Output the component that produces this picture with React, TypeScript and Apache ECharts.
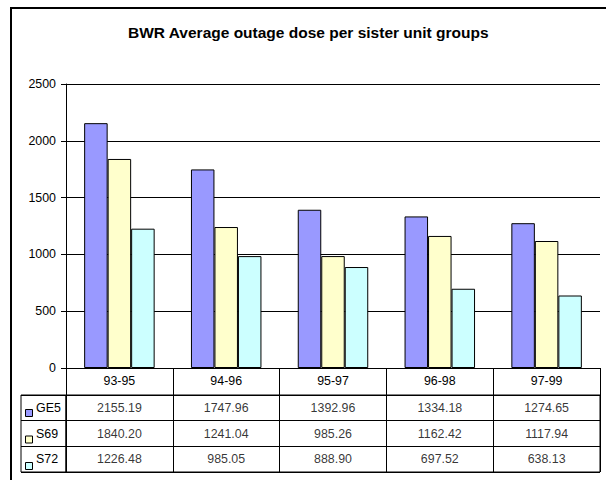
import React, { useEffect, useRef } from "react";
import * as echarts from "echarts";

const categories = ["93-95", "94-96", "95-97", "96-98", "97-99"];
const seriesNames = ["GE5", "S69", "S72"];
const ge5 = [2155.19, 1747.96, 1392.96, 1334.18, 1274.65];
const s69 = [1840.2, 1241.04, 985.26, 1162.42, 1117.94];
const s72 = [1226.48, 985.05, 888.9, 697.52, 638.13];
const colors = ["#9999FF", "#FFFFCC", "#CCFFFF"];
const yTicks = [0, 500, 1000, 1500, 2000, 2500];

const FONT = "'Liberation Sans', Arial, sans-serif";
const FS = 12.4;

export default function App() {
  const ref = useRef<HTMLDivElement>(null);
  useEffect(() => {
    if (!ref.current) return;
    const chart = echarts.init(ref.current, undefined, { renderer: "svg" });
    const values = [ge5, s69, s72];
    const tableData: any[] = [];
    values.forEach((arr, r) => {
      arr.forEach((v, c) => tableData.push([categories[c], seriesNames[r], v]));
    });
    chart.setOption({
      animation: false,
      backgroundColor: "#fff",
      textStyle: { fontFamily: FONT },
      title: {
        text: "BWR Average outage dose per sister unit groups",
        left: 128,
        top: 24,
        padding: 0,
        textStyle: { fontSize: 15.5, fontWeight: "bold", color: "#000", fontFamily: FONT },
      },
      legend: {
        data: seriesNames,
        orient: "vertical",
        left: 25,
        top: 409,
        padding: 0,
        itemWidth: 7,
        itemHeight: 7,
        itemGap: 18.5,
        icon: "rect",
        formatter: () => "",
        textStyle: { fontSize: 1, lineHeight: 1 },
        itemStyle: { borderColor: "#000", borderWidth: 1 },
        selectedMode: false,
      },
      graphic: [
        {
          type: "rect",
          shape: { x: 11, y: 8, width: 700, height: 600 },
          style: { fill: "none", stroke: "#000", lineWidth: 2 },
          silent: true,
          z: 100,
        },
      ],
      grid: [
        { left: 66, right: 6, top: 84, height: 284 },
        { left: 66, right: 6, top: 395, height: 77, show: true, borderColor: "#000", borderWidth: 1 },
        { left: 21, width: 45, top: 395, height: 77, show: true, borderColor: "#000", borderWidth: 1 },
      ],
      xAxis: [
        {
          gridIndex: 0,
          type: "category",
          data: categories,
          axisLine: { lineStyle: { color: "#000", width: 1 } },
          axisTick: { show: true, length: 27, lineStyle: { color: "#000", width: 1 } },
          axisLabel: { fontSize: FS, color: "#000", margin: 7, fontFamily: FONT },
        },
        {
          gridIndex: 1,
          type: "category",
          data: categories,
          axisLine: { show: false },
          axisTick: { show: false },
          axisLabel: { show: false },
          splitLine: { show: true, lineStyle: { color: "#000", width: 1 } },
        },
        {
          gridIndex: 2,
          type: "value",
          show: false,
        },
      ],
      yAxis: [
        {
          gridIndex: 0,
          type: "value",
          min: yTicks[0],
          max: yTicks[yTicks.length - 1],
          interval: 500,
          axisLine: { show: true, lineStyle: { color: "#000", width: 1 } },
          axisTick: { show: true, length: 5, lineStyle: { color: "#000", width: 1 } },
          axisLabel: {
            fontSize: FS,
            color: "#000",
            margin: 10,
            fontFamily: FONT,
            formatter: (v: number) => String(v),
          },
          splitLine: { show: true, lineStyle: { color: "#000", width: 1 } },
        },
        {
          gridIndex: 1,
          type: "category",
          data: seriesNames,
          inverse: true,
          axisLine: { show: false },
          axisTick: { show: false },
          axisLabel: { show: false },
          splitLine: { show: true, lineStyle: { color: "#000", width: 1 } },
        },
        {
          gridIndex: 2,
          type: "category",
          data: seriesNames,
          inverse: true,
          position: "left",
          axisLine: { show: false },
          axisTick: { show: false },
          axisLabel: {
            show: true,
            inside: true,
            margin: 15,
            align: "left",
            fontSize: FS,
            color: "#000",
            fontFamily: FONT,
          },
          splitLine: { show: true, lineStyle: { color: "#000", width: 1 } },
        },
      ],
      series: [
        ...values.map((arr, i) => ({
          name: seriesNames[i],
          type: "bar",
          xAxisIndex: 0,
          yAxisIndex: 0,
          data: arr,
          barGap: "0%",
          barCategoryGap: "34%",
          itemStyle: { color: colors[i], borderColor: "#000", borderWidth: 1 },
        })),
        {
          name: "table",
          type: "scatter",
          xAxisIndex: 1,
          yAxisIndex: 1,
          symbolSize: 0,
          data: tableData,
          label: {
            show: true,
            position: "inside",
            fontSize: FS,
            color: "#000",
            fontFamily: FONT,
            formatter: (p: any) => Number(p.value[2]).toFixed(2),
          },
        },
      ],
    });
    return () => chart.dispose();
  }, []);
  return (
    <div
      ref={ref}
      style={{ position: "absolute", left: 0, top: 0, width: 606, height: 480 }}
    />
  );
}
